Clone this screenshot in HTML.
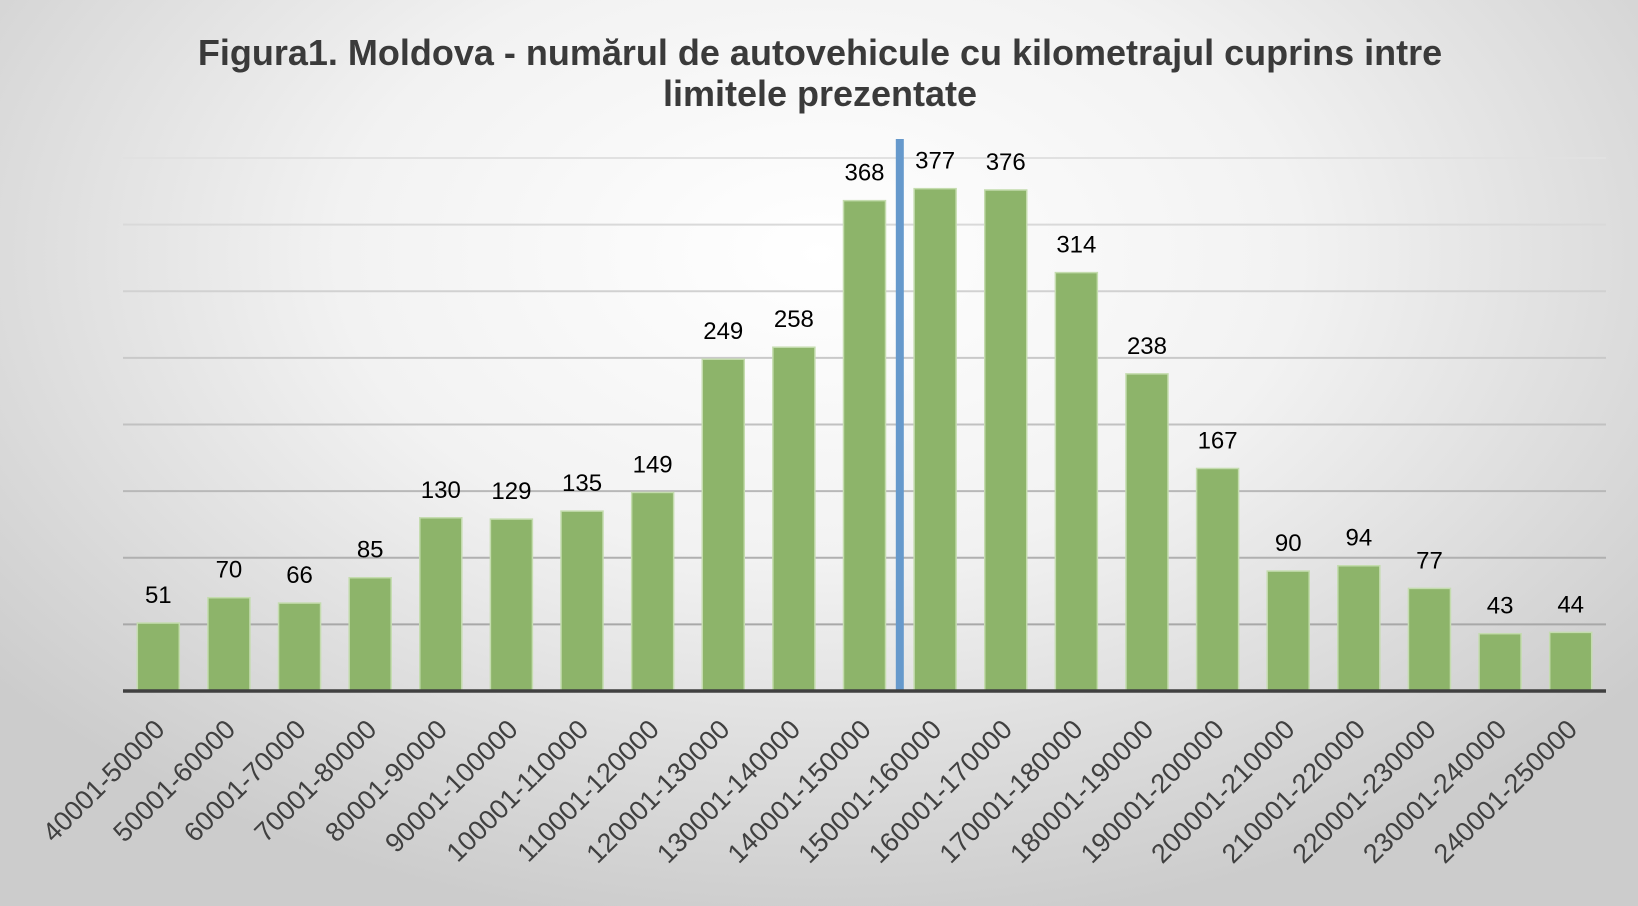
<!DOCTYPE html>
<html><head><meta charset="utf-8"><style>
html,body{margin:0;padding:0;}
body{width:1638px;height:906px;overflow:hidden;background:radial-gradient(ellipse 65% 75% at 50% 28%,#ffffff 0%,#f2f2f2 45%,#d6d6d6 85%,#cccccc 100%);font-family:"Liberation Sans",sans-serif;}
svg{position:absolute;left:0;top:0;}
</style></head><body>
<svg id="chart" width="1638" height="906" xmlns="http://www.w3.org/2000/svg">
<text x="820" y="65" text-anchor="middle" font-size="36" font-weight="bold" fill="#3a3a3a">Figura1. Moldova - numărul de autovehicule cu kilometrajul cuprins intre</text>
<text x="820" y="106" text-anchor="middle" font-size="36" font-weight="bold" fill="#3a3a3a">limitele prezentate</text>
<g id="grid"></g>
<g id="bars"></g>
<g id="labels"></g>
<g id="xlabels"></g>
</svg>
<script>
const categories=["40001-50000","50001-60000","60001-70000","70001-80000","80001-90000","90001-100000","100001-110000","110001-120000","120001-130000","130001-140000","140001-150000","150001-160000","160001-170000","170001-180000","180001-190000","190001-200000","200001-210000","210001-220000","220001-230000","230001-240000","240001-250000"];
const values=[51,70,66,85,130,129,135,149,249,258,368,377,376,314,238,167,90,94,77,43,44];
const gridTicks=[50,100,150,200,250,300,350,400];
const markerIndex=11;
const NS="http://www.w3.org/2000/svg";
const L=123,R=1606,B=691,T=158,maxV=400;
const bw=(R-L)/categories.length;
const x=i=>L+bw*i;
const y=v=>B-(B-T)*v/maxV;
function mk(tag,attrs,parent){const e=document.createElementNS(NS,tag);for(const k in attrs)e.setAttribute(k,attrs[k]);parent.appendChild(e);return e;}
const g=document.getElementById('grid'),bs=document.getElementById('bars'),lb=document.getElementById('labels'),xl=document.getElementById('xlabels');
gridTicks.forEach((t)=>{
  const shade=Math.round(160+(t/maxV)*65);
  const ln=mk('line',{x1:L,x2:R,y1:y(t),y2:y(t),stroke:`rgb(${shade},${shade},${shade})`,'stroke-width':2},g);
  
  
});
values.forEach((v,i)=>{
  const cx=x(i)+bw/2;
  const r=mk('rect',{x:cx-21,y:y(v),width:42,height:B-y(v),fill:'#8db46a',stroke:'#c4dcae','stroke-width':1.5},bs);
  
  
  const t=mk('text',{x:cx,y:y(v)-20,'text-anchor':'middle','font-size':24,fill:'#000'},lb);
  t.textContent=v;
  
  
  const ax0=cx+8,ay0=B+40;
  const xt=mk('text',{x:ax0,y:ay0,'text-anchor':'end','font-size':27,fill:'#404040',transform:`rotate(-45 ${ax0} ${ay0})`},xl);
  xt.textContent=categories[i];
  
  
});
const m=mk('line',{x1:x(markerIndex),x2:x(markerIndex),y1:139,y2:B,stroke:'#6699cc','stroke-width':8},bs);


const ax=mk('line',{x1:L,x2:R,y1:B,y2:B,stroke:'#404040','stroke-width':3.5},bs);


</script>
</body></html>
